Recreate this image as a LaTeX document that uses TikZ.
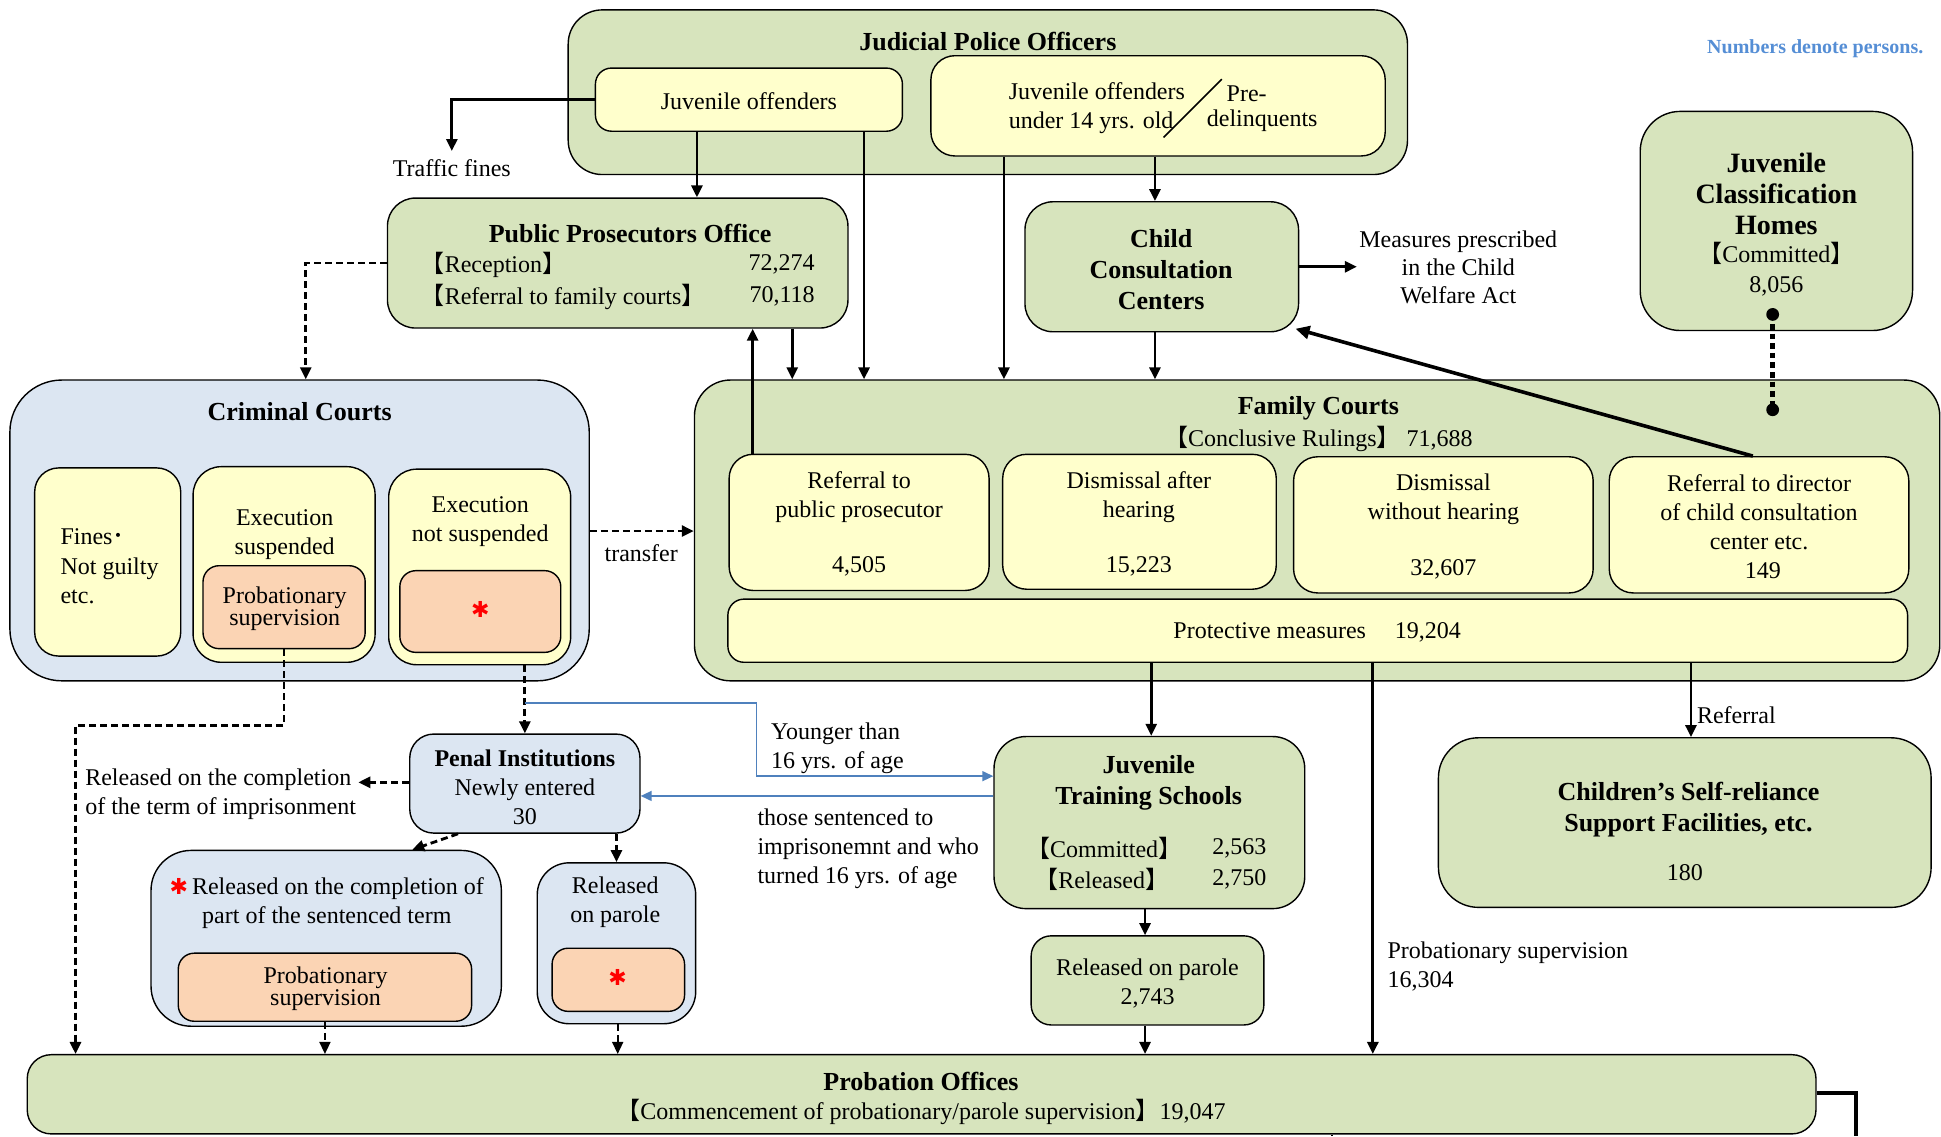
\documentclass[tikz,border=0pt]{standalone}
\usepackage{fontspec}
\setmainfont{Liberation Serif}
\newfontfamily\cjk{Noto Sans CJK JP}
\newfontfamily\dejavu{DejaVu Sans}
\usetikzlibrary{arrows.meta,fit,calc}
\definecolor{grn}{HTML}{D7E4BD}
\definecolor{yel}{HTML}{FFFFCC}
\definecolor{blu}{HTML}{DCE6F2}
\definecolor{org}{HTML}{FBD4B4}
\definecolor{bluetxt}{HTML}{558ED5}
\definecolor{bluearr}{HTML}{4F81BD}
\newcommand\lb{{\cjk【}}
\newcommand\rb{{\cjk】}}
\newcommand\regf{\fontsize{12}{14.5}\selectfont}
\newcommand\titf{\fontsize{13}{15.5}\selectfont\bfseries}
\newcommand\redstar{{\dejavu\fontsize{11}{11}\selectfont\color{red}✱}}
\begin{document}
\begin{tikzpicture}[x=0.619pt,y=-0.619pt,
  bx/.style={draw,line width=0.7pt,inner sep=0pt,rectangle},
  txt/.style={inner sep=1pt,align=center,font=\regf,yshift=-0.4pt},
  ttl/.style={inner sep=1pt,align=center,font=\titf,yshift=-0.4pt},
  arr/.style={line width=1.4pt,-{Triangle[length=6pt,width=5.5pt]}},
  darr/.style={arr,dash pattern=on 3.5pt off 2pt},
  barr/.style={draw=bluearr,line width=0.8pt,-{Triangle[length=5.5pt,width=5pt]}},
]
\useasboundingbox (0,0) rectangle (1568,918);
% ---------- boxes ----------
\node[bx,fill=grn,rounded corners=17pt,fit={(459,8)(1137,141)}] (jpo) {};
\node[bx,fill=yel,rounded corners=8pt,fit={(481,55)(729,106)}] (jo) {};
\node[bx,fill=yel,rounded corners=12pt,fit={(752,45)(1119,126)}] (jo14) {};
\node[bx,fill=grn,rounded corners=14pt,fit={(313,160)(685,265)}] (ppo) {};
\node[bx,fill=grn,rounded corners=14pt,fit={(828,163)(1049,268)}] (ccc) {};
\node[bx,fill=grn,rounded corners=20pt,fit={(1325,90)(1545,267)}] (jch) {};
\node[bx,fill=blu,rounded corners=26pt,fit={(8,307)(476,550)}] (cc) {};
\node[bx,fill=yel,rounded corners=12pt,fit={(28,378)(146,530)}] (ccf) {};
\node[bx,fill=yel,rounded corners=14pt,fit={(156,377)(303,535)}] (cce) {};
\node[bx,fill=org,rounded corners=8pt,fit={(164,457)(295,524)}] (ccep) {};
\node[bx,fill=yel,rounded corners=14pt,fit={(314,379)(461,537)}] (ccn) {};
\node[bx,fill=org,rounded corners=8pt,fit={(323,461)(453,527)}] (ccnp) {};
\node[bx,fill=grn,rounded corners=18pt,fit={(561,307)(1567,550)}] (fc) {};
\node[bx,fill=yel,rounded corners=12pt,fit={(589,367)(799,477)}] (fc1) {};
\node[bx,fill=yel,rounded corners=12pt,fit={(810,367)(1031,476)}] (fc2) {};
\node[bx,fill=yel,rounded corners=12pt,fit={(1045,369)(1287,479)}] (fc3) {};
\node[bx,fill=yel,rounded corners=12pt,fit={(1300,369)(1542,479)}] (fc4) {};
\node[bx,fill=yel,rounded corners=8pt,fit={(588,484)(1541,535)}] (fcp) {};
\node[bx,fill=grn,rounded corners=16pt,fit={(803,595)(1054,734)}] (jts) {};
\node[bx,fill=grn,rounded corners=10pt,fit={(833,756)(1021,828)}] (rop) {};
\node[bx,fill=grn,rounded corners=20pt,fit={(1162,596)(1560,733)}] (csr) {};
\node[bx,fill=blu,rounded corners=12pt,fit={(331,593)(517,673)}] (pen) {};
\node[bx,fill=blu,rounded corners=20pt,fit={(122,687)(405,829)}] (rcp) {};
\node[bx,fill=org,rounded corners=8pt,fit={(144,770)(381,825)}] (rcpp) {};
\node[bx,fill=blu,rounded corners=16pt,fit={(434,697)(562,827)}] (rp) {};
\node[bx,fill=org,rounded corners=8pt,fit={(446,766)(553,817)}] (rpp) {};
\node[bx,fill=grn,rounded corners=12pt,fit={(22,852)(1467,916)}] (pro) {};
% ---------- texts ----------
\node[ttl] (jpoT) at (798,33) {Judicial Police Officers};
\node[txt] (joT) at (605,81) {Juvenile offenders};
\node[txt,align=left,anchor=west] (jo14T) at (813,87) {Juvenile offenders\\under 14 yrs. old};
\node[txt,anchor=west] (preT) at (989,75) {Pre-};
\node[txt,anchor=west] (delT) at (973,97) {delinquents};
\coordinate (s1) at (940,111); \coordinate (s2) at (987,64);
\draw[line width=0.8pt] (s1) -- (s2);
\node[txt] (tf) at (365,135) {Traffic fines};
\node[ttl] (ppoT) at (509,188) {Public Prosecutors Office};
\node[txt,anchor=west] (ppoR) at (338,213) {\lb Reception\rb};
\node[txt,anchor=east] (ppoRn) at (660,213) {72,274};
\node[txt,anchor=west] (ppoF) at (338,239) {\lb Referral to family courts\rb};
\node[txt,anchor=east] (ppoFn) at (660,239) {70,118};
\node[ttl] (cccT) at (938,217) {Child\\Consultation\\Centers};
\node[txt,font=\fontsize{12}{14}\selectfont] (mpc) at (1178,215) {Measures prescribed\\in the Child\\Welfare Act};
\node[align=center,inner sep=1pt,yshift=-0.4pt,font=\fontsize{14}{15.5}\selectfont\bfseries] (jchT) at (1435,156) {Juvenile\\Classification\\Homes};
\node[txt,font=\fontsize{12}{15}\selectfont] (jchC) at (1435,217) {\lb Committed\rb\\8,056};
\node[anchor=east,inner sep=0pt,yshift=-1pt,font=\fontsize{10}{12}\selectfont\bfseries,text=bluetxt] (ndp) at (1554,38) {Numbers denote persons.};
\node[ttl] (ccT) at (242,332) {Criminal Courts};
\node[txt,align=left,anchor=west,font=\fontsize{12}{14.8}\selectfont] (ccfT) at (47,457) {Fines{\cjk ･}\\Not guilty\\etc.};
\node[txt] (cceT) at (230,431) {Execution\\suspended};
\node[txt,font=\fontsize{12}{11}\selectfont] (ccepT) at (230,491) {Probationary\\supervision};
\node[txt] (ccnT) at (388,421) {Execution\\not suspended};
\node (ccnS) at (388,492) {\redstar};
\node[txt] (trT) at (518,446) {transfer};
\node[ttl] (fcT) at (1065,329) {Family Courts};
\node[txt] (fcC) at (1065,354) {\lb Conclusive Rulings\rb\ 71,688};
\node[txt] (fc1T) at (694,401) {Referral to\\public prosecutor};
\node[txt] (fc1N) at (694,457) {4,505};
\node[txt] (fc2T) at (920,401) {Dismissal after\\hearing};
\node[txt] (fc2N) at (920,457) {15,223};
\node[txt] (fc3T) at (1166,403) {Dismissal\\without hearing};
\node[txt] (fc3N) at (1166,459) {32,607};
\node[txt] (fc4T) at (1421,413) {Referral to director\\of child consultation\\center etc.};
\node[txt] (fc4N) at (1424,460) {149};
\node[txt] (fcpT) at (1064,510) {Protective measures\hspace{1.2em}19,204};
\node[txt,anchor=west] (refT) at (1369,577) {Referral};
\node[txt,anchor=west,align=left] (psT) at (1119,780) {Probationary supervision\\16,304};
\node[ttl] (jtsT) at (928,632) {Juvenile\\Training Schools};
\node[txt] (jtsC) at (892,685) {\lb Committed\rb};
\node[txt,anchor=east] (jtsCn) at (1025,685) {2,563};
\node[txt] (jtsR) at (890,710) {\lb Released\rb};
\node[txt,anchor=east] (jtsRn) at (1025,710) {2,750};
\node[txt] (ropT) at (927,794) {Released on parole\\2,743};
\node[ttl] (csrT) at (1364,653) {Children’s Self-reliance\\Support Facilities, etc.};
\node[txt] (csrN) at (1361,704) {180};
\node[txt] (penT) at (424,635) {{\bfseries Penal Institutions}\\Newly entered\\30};
\node[txt,align=left,anchor=west] (rc1T) at (67,641) {Released on the completion\\of the term of imprisonment};
\node[txt,align=left,anchor=west] (yngT) at (621,604) {Younger than\\16 yrs. of age};
\node[txt,align=left,anchor=west] (thT) at (610,685) {those sentenced to\\imprisonemnt and who\\turned 16 yrs. of age};
\node[txt] (rcpT) at (264,729) {\redstar\,Released on the completion of\\part of the sentenced term};
\node[txt,font=\fontsize{12}{11}\selectfont] (rcppT) at (263,798) {Probationary\\supervision};
\node[txt] (rpT) at (497,728) {Released\\on parole};
\node (rppS) at (499,790) {\redstar};
\node[ttl] (proT) at (744,873) {Probation Offices};
\node[txt] (proC) at (744,898) {\lb Commencement of probationary/parole supervision\rb 19,047};
% ---------- connectors ----------
\coordinate (tfe) at (365,122);
\draw[arr] (jo.west) -| (tfe);
\draw[arr] (jo.south -| 563,0) -- (ppo.north -| 563,0);
\draw[arr] (jo.south -| 698,0) -- (fc.north -| 698,0);
\draw[arr] (jo14.south -| 811,0) -- (fc.north -| 811,0);
\draw[arr] (jo14.south -| 933,0) -- (ccc.north -| 933,0);
\draw[arr] (ccc.south -| 933,0) -- (fc.north -| 933,0);
\draw[arr] (ppo.south -| 640,0) -- (fc.north -| 640,0);
\draw[arr] (fc1.north -| 608,0) -- (ppo.south -| 608,0);
\draw[darr] (ppo.west) -| (cc.north -| 247,0);
\draw[arr] (ccc.east) -- (mpc.west |- ccc.east);
\draw[line width=1.8pt,-{Triangle[length=7pt,width=6.5pt]}] (fc4.north -| 1416,0) -- ($(ccc.south east)+(-3,-3)$);
\coordinate (d1) at (1432,254); \coordinate (d2) at (1432,331);
\draw[line width=2.8pt,dash pattern=on 2.8pt off 2pt] (d1) -- (d2);
\fill (d1) circle (3.2pt); \fill (d2) circle (3.2pt);
\draw[darr] (cc.east |- 0,429) -- (fc.west |- 0,429);
\draw[arr] (fcp.south -| 930,0) -- (jts.north -| 930,0);
\draw[arr] (fcp.south -| 1109,0) -- (pro.north -| 1109,0);
\draw[arr] (fcp.south -| 1366,0) -- (csr.north -| 1366,0);
\draw[arr] (jts.south -| 925,0) -- (rop.north -| 925,0);
\draw[arr] (rop.south -| 925,0) -- (pro.north -| 925,0);
\draw[darr] (ccn.south -| 424,0) -- (pen.north -| 424,0);
\coordinate (bl0) at (424,568);
\draw[barr] (bl0) -| (611,627) -- (jts.west |- 0,627);
\draw[barr] (jts.west |- 0,643) -- (pen.east |- 0,643);
\draw[darr] (pen.west |- 0,632) -- (rc1T.east |- 0,632);
\draw[darr] (ccep.south) -- (ccep.south |- 0,586) -| (pro.north -| 61,0);
\draw[darr] (pen.south -| 370,0) -- (rcp.north -| 333,0);
\draw[darr] (pen.south -| 498,0) -- (rp.north -| 498,0);
\draw[darr,line width=0.8pt] (rcpp.south) -- (pro.north -| rcpp.south);
\draw[darr,line width=0.8pt] (rp.south -| 499,0) -- (pro.north -| 499,0);
\coordinate (pe) at (1499,918);
\draw[line width=2pt] (pro.east |- 0,883) -| (pe);
\coordinate (tk) at (1076,918);
\draw[line width=1pt] (pro.south -| 1076,0) -- (tk);
\end{tikzpicture}
\end{document}
